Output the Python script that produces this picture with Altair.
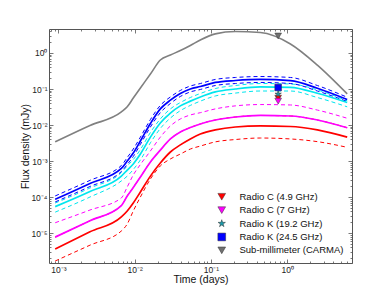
import altair as alt
import pandas as pd

# ---------------- data ----------------
t_days = [0.00091, 0.0026, 0.0067, 0.0080, 0.0096, 0.0119, 0.0161, 0.0217, 0.0294,
          0.0397, 0.0537, 0.0726, 0.114, 0.209, 0.444, 1.10, 2.48, 6.1]

submm_model = [3.4e-3, 9.7e-3, 2.3e-2, 3.2e-2, 5.6e-2, 0.107, 0.26, 0.64, 0.88,
               1.17, 1.62, 2.3, 3.4, 3.95, 3.7, 1.78, 0.46, 0.073]

red_solid = [3.6e-6, 1.08e-5, 2.8e-5, 4.1e-5, 6.8e-5, 1.38e-4, 3.8e-4, 8.8e-4, 1.78e-3,
             2.8e-3, 4.1e-3, 5.6e-3, 7.3e-3, 8.8e-3, 9.4e-3, 9.1e-3, 7.3e-3, 4.6e-3]
red_low = [1.67e-6, 4.6e-6, 1.14e-5, 1.78e-5, 4.1e-5, 1.0e-4, 3.16e-4, 7.3e-4, 1.14e-3,
           1.56e-3, 2.15e-3, 2.6e-3, 3.4e-3, 3.95e-3, 4.35e-3, 4.1e-3, 3.45e-3, 2.4e-3]
red_up = [7.7e-6, 2.2e-5, 5.8e-5, 1.07e-4, 1.84e-4, 3.6e-4, 9.4e-4, 2.0e-3, 4.1e-3,
          6.4e-3, 8.5e-3, 1.07e-2, 1.38e-2, 1.67e-2, 1.84e-2, 1.78e-2, 1.38e-2, 8.4e-3]

magenta_solid = [7.7e-6, 2.2e-5, 5.8e-5, 1.07e-4, 1.84e-4, 3.6e-4, 9.4e-4, 2.0e-3, 4.1e-3,
                 6.4e-3, 8.5e-3, 1.07e-2, 1.38e-2, 1.67e-2, 1.84e-2, 1.78e-2, 1.38e-2, 8.4e-3]
magenta_up = [1.93e-5, 4.35e-5, 9.4e-5, 1.9e-4, 4.1e-4, 8.0e-4, 1.9e-3, 4.6e-3, 9.4e-3,
              1.47e-2, 1.9e-2, 2.2e-2, 2.8e-2, 3.4e-2, 3.7e-2, 3.6e-2, 2.6e-2, 1.54e-2]

cyan_solid = [5.4e-5, 1.42e-4, 3.8e-4, 5.6e-4, 8.3e-4, 1.56e-3, 4.6e-3, 1.14e-2, 2.15e-2,
              3.4e-2, 4.6e-2, 6.0e-2, 8.3e-2, 0.100, 0.114, 0.111, 0.076, 0.042]
cyan_up = [6.8e-5, 1.78e-4, 4.8e-4, 7.3e-4, 1.1e-3, 2.08e-3, 6.2e-3, 1.47e-2, 2.8e-2,
           4.2e-2, 5.8e-2, 7.5e-2, 0.103, 0.125, 0.142, 0.138, 0.094, 0.047]
cyan_low = [3.8e-5, 1.0e-4, 2.8e-4, 3.8e-4, 5.8e-4, 1.07e-3, 3.2e-3, 8.0e-3, 1.56e-2,
            2.5e-2, 3.5e-2, 4.6e-2, 6.4e-2, 7.7e-2, 8.8e-2, 8.8e-2, 5.8e-2, 3.2e-2]

blue_solid = [8.6e-5, 2.37e-4, 6.2e-4, 1.0e-3, 1.67e-3, 3.6e-3, 1.1e-2, 2.8e-2, 4.9e-2,
              7.5e-2, 0.100, 0.117, 0.152, 0.172, 0.184, 0.170, 0.105, 0.051]
blue_up = [1.07e-4, 2.9e-4, 7.5e-4, 1.25e-3, 2.15e-3, 4.6e-3, 1.42e-2, 3.5e-2, 6.0e-2,
           9.1e-2, 0.121, 0.142, 0.184, 0.209, 0.222, 0.209, 0.125, 0.059]
blue_low = [7.3e-5, 1.96e-4, 5.1e-4, 8.0e-4, 1.33e-3, 2.9e-3, 8.8e-3, 2.2e-2, 3.95e-2,
            6.2e-2, 8.3e-2, 9.7e-2, 0.125, 0.142, 0.152, 0.142, 0.088, 0.045]

obs_labels = ["Radio C (4.9 GHz)", "Radio C (7 GHz)", "Radio K (19.2 GHz)",
              "Radio K (24.5 GHz)", "Sub-millimeter (CARMA)"]
obs_t = [0.76, 0.76, 0.76, 0.76, 0.76]
obs_flux = [0.056, 0.046, 0.072, 0.110, 2.97]

x_major = [0.001, 0.01, 0.1, 1]
x_minor = [0.0008, 0.0009] + [m * d for d in [0.001, 0.01, 0.1] for m in range(2, 10)] + [2, 3, 4, 5, 6, 7]
y_major = [1e-5, 1e-4, 1e-3, 1e-2, 1e-1, 1]
y_minor = [2e-6, 3e-6, 4e-6, 5e-6, 6e-6, 7e-6, 8e-6, 9e-6] + \
          [m * d for d in [1e-5, 1e-4, 1e-3, 1e-2, 1e-1] for m in range(2, 10)] + [2, 3, 4]

# ---------------- styles ----------------
RED, MAG, CYAN, BLUE, GRAY = "#ff0000", "#ff00ff", "#00e6ee", "#0000ff", "#808080"

solid_sets = [("cyan", cyan_solid, CYAN), ("blue", blue_solid, BLUE),
              ("magenta", magenta_solid, MAG), ("red", red_solid, RED)]
dash_sets = [("cyan_up", cyan_up, CYAN), ("cyan_low", cyan_low, CYAN),
             ("blue_up", blue_up, BLUE), ("blue_low", blue_low, BLUE),
             ("magenta_up", magenta_up, MAG),
             ("red_low", red_low, RED), ("red_up", red_up, RED)]


def long_df(sets):
    rows = []
    for name, vals, col in sets:
        for t, f in zip(t_days, vals):
            rows.append({"t": t, "F": f, "series": name, "color": col})
    return pd.DataFrame(rows)


df_solid = long_df(solid_sets)
df_dash = long_df(dash_sets)
df_gray = pd.DataFrame({"t": t_days, "F": submm_model})
df_obs = pd.DataFrame({"t": obs_t, "F": obs_flux, "label": obs_labels})

FONT = "Liberation Sans"
xs = alt.Scale(type="log", domain=[7.55e-4, 7.05], nice=False)
ys = alt.Scale(type="log", domain=[1.47e-6, 4.64], nice=False)

x_lab = "'10' + ['\u2070','\u207b\u00b9','\u207b\u00b2','\u207b\u00b3'][-round(log(datum.value)/LN10)]"
y_lab = ("'10' + ['\u2070','\u207b\u00b9','\u207b\u00b2','\u207b\u00b3','\u207b\u2074','\u207b\u2075']"
         "[-round(log(datum.value)/LN10)]")

ax_b_major = alt.Axis(orient="bottom", values=x_major, offset=-4, tickSize=4, labelExpr=x_lab,
                      labelPadding=2, title="Time (days)", titlePadding=1)
ax_l_major = alt.Axis(orient="left", values=y_major, offset=-4, tickSize=4, labelExpr=y_lab,
                      labelPadding=2, title="Flux density (mJy)", titlePadding=0)
ax_b_minor = alt.Axis(orient="bottom", values=x_minor, offset=-2, tickSize=2, labels=False, title=None)
ax_l_minor = alt.Axis(orient="left", values=y_minor, offset=-2, tickSize=2, labels=False, title=None)
ax_t_major = alt.Axis(orient="top", values=x_major, offset=-4, tickSize=4, labels=False, title=None)
ax_r_major = alt.Axis(orient="right", values=y_major, offset=-4, tickSize=4, labels=False, title=None)
ax_t_minor = alt.Axis(orient="top", values=x_minor, offset=-2, tickSize=2, labels=False, title=None)
ax_r_minor = alt.Axis(orient="right", values=y_minor, offset=-2, tickSize=2, labels=False, title=None)

dashed = alt.Chart(df_dash).mark_line(strokeWidth=1, strokeDash=[4, 3], interpolate="monotone").encode(
    x=alt.X("t:Q", scale=xs, axis=ax_b_major),
    y=alt.Y("F:Q", scale=ys, axis=ax_l_major),
    stroke=alt.Stroke("color:N", scale=None),
    detail="series:N",
)

solid = alt.Chart(df_solid).mark_line(strokeWidth=1.7, interpolate="monotone").encode(
    x=alt.X("t:Q", scale=xs, axis=ax_b_minor),
    y=alt.Y("F:Q", scale=ys, axis=ax_l_minor),
    stroke=alt.Stroke("color:N", scale=None),
    detail="series:N",
)

gray = alt.Chart(df_gray).mark_line(color=GRAY, strokeWidth=1.6, interpolate="monotone").encode(
    x=alt.X("t:Q", scale=xs, axis=ax_t_major),
    y=alt.Y("F:Q", scale=ys, axis=ax_r_major),
)

leg = alt.Legend(orient="none", legendX=168, legendY=163, title=None, labelFont=FONT,
                 labelFontSize=9.5, labelColor="#111", symbolSize=60, rowPadding=2.4,
                 padding=0, labelOffset=13, symbolStrokeColor="#333", symbolStrokeWidth=0.5)

pts = alt.Chart(df_obs).mark_point(filled=True, opacity=1, size=45, stroke="#333", strokeWidth=0.5).encode(
    x=alt.X("t:Q", scale=xs, axis=ax_t_minor),
    y=alt.Y("F:Q", scale=ys, axis=ax_r_minor),
    color=alt.Color("label:N", scale=alt.Scale(domain=obs_labels,
                    range=[RED, MAG, "#1a9aaa", BLUE, "#707070"]), legend=leg),
    shape=alt.Shape("label:N", scale=alt.Scale(domain=obs_labels,
                    range=["triangle-down", "triangle-down",
                           "M0,-1L0.2245,-0.309L0.951,-0.309L0.363,0.118L0.588,0.809L0,0.382L-0.588,0.809L-0.363,0.118L-0.951,-0.309L-0.2245,-0.309Z",
                           "square", "triangle-down"]), legend=leg),
)

chart = alt.layer(dashed, solid, gray, pts).resolve_axis(
    x="independent", y="independent"
).properties(
    width=303, height=234,
    padding={"left": 41, "top": 21, "right": 30, "bottom": 23},
    autosize=alt.AutoSizeParams(type="none"),
).configure_view(
    stroke="#555", strokeWidth=1
).configure_axis(
    domain=False, grid=False, tickColor="#555", tickWidth=0.8,
    labelFont=FONT, labelFontSize=8.5, labelColor="#222",
    titleFont=FONT, titleFontSize=10.5, titleFontWeight="normal", titleColor="#111",
)

chart.save("out.html", embed_options={"renderer": "svg", "actions": False})
